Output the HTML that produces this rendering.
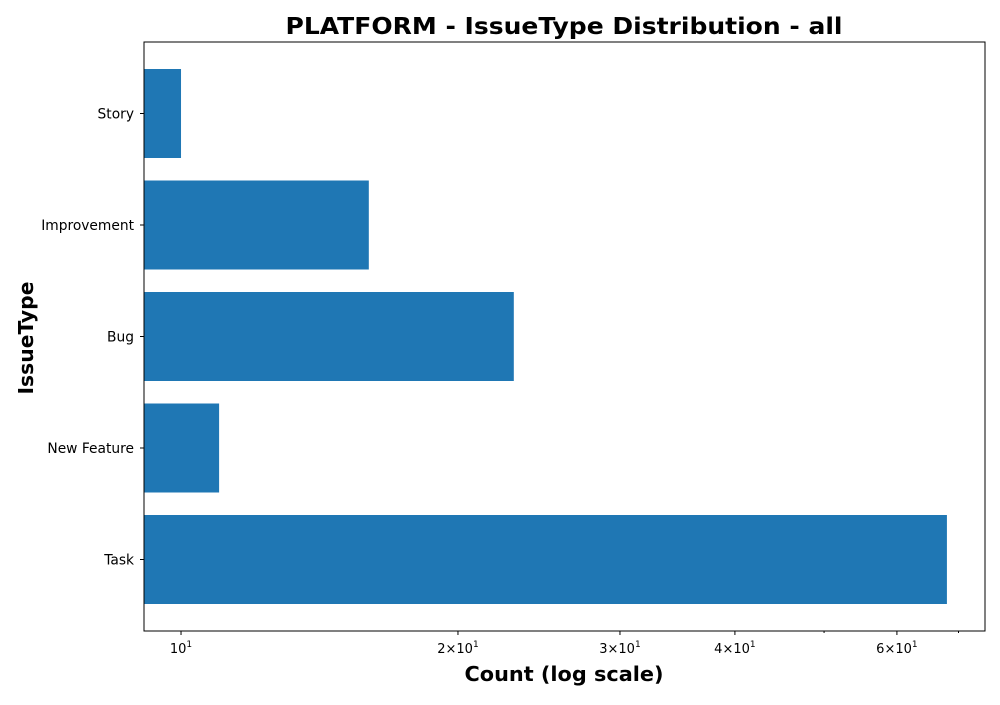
<!DOCTYPE html>
<html><head><meta charset="utf-8"><style>
body{margin:0;background:#fff;}
svg{font-family:"DejaVu Sans","Liberation Sans",sans-serif;}
</style></head><body>
<svg id="chart" width="1000" height="700">
<text x="564" y="34" text-anchor="middle" font-size="23" font-weight="bold" textLength="557" lengthAdjust="spacingAndGlyphs">PLATFORM - IssueType Distribution - all</text>
<text x="564" y="681" text-anchor="middle" font-size="20" font-weight="bold" textLength="199" lengthAdjust="spacingAndGlyphs">Count (log scale)</text>
<text transform="translate(33,338) rotate(-90)" text-anchor="middle" font-size="20" font-weight="bold" textLength="113" lengthAdjust="spacingAndGlyphs">IssueType</text>
<g id="bars"></g>
<g id="ticks"></g>
<rect x="144" y="42" width="841" height="589" fill="none" stroke="#000" stroke-width="1"/>
</svg>
<script>
const categories = ["Story","Improvement","Bug","New Feature","Task"];
const counts = [10,16,23,11,68];
const majorTicks = [10,20,30,40,60];
const tickMant = ["","2\u00d7","3\u00d7","4\u00d7","6\u00d7"];
const minorTicks = [50,70];
const ns="http://www.w3.org/2000/svg";
const L=144,R=985,T=42,B=631;
const lmin=Math.log10(9.115),lmax=Math.log10(74.8);
function xs(v){return L+(Math.log10(v)-lmin)/(lmax-lmin)*(R-L);}
function yc(i){return 113.5+i*111.5;}
const bars=document.getElementById('bars'),ticks=document.getElementById('ticks');
function mk(tag,attrs,parent){const e=document.createElementNS(ns,tag);for(const k in attrs)e.setAttribute(k,attrs[k]);parent.appendChild(e);return e;}
categories.forEach((c,i)=>{
  const r=mk('rect',{x:L,y:yc(i)-44.5,width:xs(counts[i])-L,height:89,fill:'#1f77b4'},bars);
  
  
  const tl=mk('line',{x1:L-4,x2:L,y1:yc(i),y2:yc(i),stroke:'#000'},ticks);
  
  
  const t=mk('text',{x:L-10,y:yc(i)+5,'text-anchor':'end','font-size':13.8},ticks);
  t.textContent=c;
  
  
});
majorTicks.forEach((v,i)=>{
  const x=xs(v);
  const l=mk('line',{x1:x,x2:x,y1:B,y2:B+4,stroke:'#000'},ticks);
  
  
  const t=mk('text',{x:x,y:B+22,'text-anchor':'middle','font-size':13},ticks);
  
  
  t.textContent=tickMant[i]+'10';
  const s=mk('tspan',{dy:-6,'font-size':9},t);s.textContent='1';
});
minorTicks.forEach(v=>{
  const x=xs(v);
  const l=mk('line',{x1:x,x2:x,y1:B,y2:B+2,stroke:'#000'},ticks);
  
  
});
</script>
</body></html>
